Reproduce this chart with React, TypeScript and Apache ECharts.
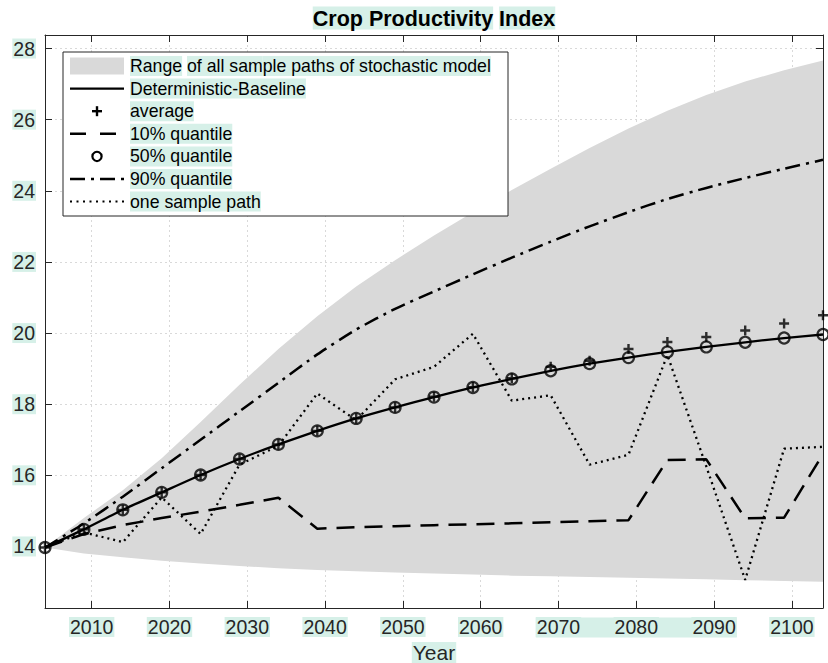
import React, { useEffect, useRef } from 'react';
import * as echarts from 'echarts';

// ---------- data ----------
const years = [2004, 2009, 2014, 2019, 2024, 2029, 2034, 2039, 2044, 2049, 2054, 2059, 2064, 2069, 2074, 2079, 2084, 2089, 2094, 2099, 2104];
const xTicks = [2010, 2020, 2030, 2040, 2050, 2060, 2070, 2080, 2090, 2100];
const yTicks = [14, 16, 18, 20, 22, 24, 26, 28];

const bandLower = [13.97, 13.8, 13.7, 13.6, 13.52, 13.45, 13.39, 13.34, 13.3, 13.27, 13.24, 13.21, 13.18, 13.16, 13.14, 13.12, 13.1, 13.08, 13.05, 13.03, 13.01];
const bandUpper = [13.97, 14.8, 15.58, 16.48, 17.5, 18.55, 19.55, 20.47, 21.31, 22.05, 22.74, 23.4, 24.02, 24.62, 25.2, 25.75, 26.25, 26.69, 27.07, 27.39, 27.66];
const baseline = [13.97, 14.48, 15.03, 15.52, 16.01, 16.46, 16.87, 17.25, 17.6, 17.91, 18.2, 18.47, 18.71, 18.94, 19.14, 19.31, 19.47, 19.61, 19.74, 19.86, 19.96];
const average = [13.97, 14.48, 15.03, 15.52, 16.01, 16.46, 16.87, 17.25, 17.6, 17.91, 18.21, 18.48, 18.73, 19.05, 19.22, 19.55, 19.75, 19.89, 20.07, 20.27, 20.5];
const q10 = [13.97, 14.35, 14.6, 14.8, 14.98, 15.17, 15.37, 14.5, 14.54, 14.57, 14.6, 14.62, 14.65, 14.68, 14.71, 14.74, 16.43, 16.45, 14.79, 14.81, 16.6];
const q50 = [13.97, 14.48, 15.03, 15.52, 16.01, 16.46, 16.87, 17.25, 17.6, 17.91, 18.2, 18.47, 18.71, 18.94, 19.14, 19.31, 19.47, 19.61, 19.74, 19.86, 19.96];
const q90 = [13.97, 14.65, 15.4, 16.2, 17.0, 17.8, 18.6, 19.4, 20.1, 20.68, 21.17, 21.65, 22.12, 22.57, 23.0, 23.4, 23.77, 24.08, 24.36, 24.62, 24.87];
const samplePath = [13.97, 14.4, 14.12, 15.38, 14.35, 16.3, 16.83, 18.3, 17.55, 18.7, 19.05, 19.98, 18.1, 18.25, 16.3, 16.58, 19.38, 16.25, 13.06, 16.75, 16.8];

const legendLabels = ['Range of all sample paths of stochastic model', 'Deterministic-Baseline', 'average', '10% quantile', '50% quantile', '90% quantile', 'one sample path'];
const titleText = 'Crop Productivity Index';
const xName = 'Year';

// ---------- styles ----------
const FONT = '"Liberation Sans", Arial, Helvetica, sans-serif';
const HL = '#d6f0e8';
const INK = '#262626';
const BAND = '#d9d9d9';
const DASH = [18, 10];
const DASHDOT = [15, 6, 3, 6];
const DOT = [2, 4];
const PLUS = 'path://M3.8,0H6.2V3.8H10V6.2H6.2V10H3.8V6.2H0V3.8H3.8Z';

const pairs = (vals: number[]) => years.map((y, i) => [y, vals[i]]);

export default function App() {
  const ref = useRef<HTMLDivElement>(null);

  useEffect(() => {
    const chart = echarts.init(ref.current!, null, { renderer: 'svg' });

    const axisLine = { show: true, onZero: false, lineStyle: { color: INK, width: 1 } };
    const tickStyle = { color: INK, width: 1 };
    const labelBase = {
      fontSize: 19.5,
      color: INK,
      fontFamily: FONT,
      backgroundColor: HL,
      padding: [0, 1, 0, 1],
      lineHeight: 20,
    };

    const rowY = [66, 88.6, 111.2, 133.8, 156.4, 179, 201.6];
    const lx1 = 70, lx2 = 124, lcx = 97, tx = 130;
    const textStyle = (t: string, y: number) => ({
      type: 'text', z: 102, x: tx, y,
      style: {
        text: t, fontSize: 17.7, fontFamily: FONT, fill: '#000',
        verticalAlign: 'middle', align: 'left', backgroundColor: HL, padding: [1, 0, 1, 0],
      },
    });

    const legendGraphics: any[] = [
      { type: 'rect', z: 100, shape: { x: 63, y: 52, width: 445, height: 164 }, style: { fill: '#fff', stroke: INK, lineWidth: 1 } },
      { type: 'rect', z: 101, shape: { x: lx1, y: 57.5, width: lx2 - lx1, height: 17 }, style: { fill: BAND } },
      {
        type: 'text', z: 102, x: tx, y: rowY[0],
        style: {
          text: '{h|Range} {h|of all sam}{h|ple paths of stochastic model}',
          fontSize: 17.7, fontFamily: FONT, verticalAlign: 'middle', align: 'left',
          rich: { h: { fontSize: 17.7, fontFamily: FONT, fill: '#000', backgroundColor: HL, padding: [1, 0, 1, 0] } },
        },
      },
      { type: 'line', z: 101, shape: { x1: lx1, y1: rowY[1], x2: lx2, y2: rowY[1] }, style: { stroke: '#000', lineWidth: 2.3 } },
      textStyle(legendLabels[1], rowY[1]),
      { type: 'line', z: 101, shape: { x1: lcx - 5, y1: rowY[2], x2: lcx + 5, y2: rowY[2] }, style: { stroke: '#000', lineWidth: 2.4 } },
      { type: 'line', z: 101, shape: { x1: lcx, y1: rowY[2] - 5, x2: lcx, y2: rowY[2] + 5 }, style: { stroke: '#000', lineWidth: 2.4 } },
      textStyle(legendLabels[2], rowY[2]),
      { type: 'line', z: 101, shape: { x1: lx1, y1: rowY[3], x2: lx2, y2: rowY[3] }, style: { stroke: '#000', lineWidth: 2.5, lineDash: [16, 14] } },
      textStyle(legendLabels[3], rowY[3]),
      { type: 'circle', z: 101, shape: { cx: lcx, cy: rowY[4], r: 4.6 }, style: { fill: 'none', stroke: '#000', lineWidth: 2.2 } },
      textStyle(legendLabels[4], rowY[4]),
      { type: 'line', z: 101, shape: { x1: lx1, y1: rowY[5], x2: lx2, y2: rowY[5] }, style: { stroke: '#000', lineWidth: 2.5, lineDash: DASHDOT } },
      textStyle(legendLabels[5], rowY[5]),
      { type: 'line', z: 101, shape: { x1: lx1, y1: rowY[6], x2: lx2, y2: rowY[6] }, style: { stroke: '#000', lineWidth: 2, lineDash: [2, 4.5] } },
      textStyle(legendLabels[6], rowY[6]),
    ];

    const titleGraphic = {
      type: 'text', z: 102, x: 434, y: 18,
      style: {
        text: '{h|Crop Produ}{h|ctivity} {h|Index}',
        fontSize: 21.5, fontWeight: 'bold', fontFamily: FONT, align: 'center', verticalAlign: 'middle',
        rich: { h: { fontSize: 21.5, fontWeight: 'bold', fontFamily: FONT, fill: '#000', backgroundColor: HL, padding: [1, 0, 0, 0] } },
      },
    };

    const option: any = {
      animation: false,
      backgroundColor: '#fff',
      grid: { left: 45, right: 5, top: 35, bottom: 55, containLabel: false, outerBoundsMode: 'none' },
      xAxis: [
        {
          type: 'value', min: 2004, max: 2104, position: 'bottom',
          axisLine,
          axisTick: { show: true, inside: true, length: 7, customValues: xTicks, lineStyle: tickStyle },
          axisLabel: { show: true, customValues: xTicks, margin: 9, formatter: (v: number) => String(v), ...labelBase },
          splitLine: { show: true, lineStyle: { color: '#d9d9d9', width: 1, type: [2, 3] } },
          name: xName, nameLocation: 'middle', nameGap: 31,
          nameTextStyle: { fontSize: 21, fontFamily: FONT, color: INK, backgroundColor: HL, padding: [0, 1, 0, 1], lineHeight: 21, verticalAlign: 'top' },
        },
        {
          type: 'value', min: 2004, max: 2104, position: 'top',
          axisLine,
          axisTick: { show: true, inside: true, length: 7, customValues: xTicks, lineStyle: tickStyle },
          axisLabel: { show: false },
          splitLine: { show: false },
        },
      ],
      yAxis: [
        {
          type: 'value', min: 12.27, max: 28.38, position: 'left',
          axisLine,
          axisTick: { show: true, inside: true, length: 7, customValues: yTicks, lineStyle: tickStyle },
          axisLabel: { show: true, customValues: yTicks, margin: 9, formatter: (v: number) => String(v), ...labelBase },
          splitLine: { show: true, lineStyle: { color: '#d9d9d9', width: 1, type: [2, 3] } },
        },
        {
          type: 'value', min: 12.27, max: 28.38, position: 'right',
          axisLine,
          axisTick: { show: true, inside: true, length: 7, customValues: yTicks, lineStyle: tickStyle },
          axisLabel: { show: false },
          splitLine: { show: false },
        },
      ],
      series: [
        {
          name: legendLabels[0], type: 'custom', data: pairs(bandUpper), silent: true, z: 1,
          renderItem: (params: any, api: any) => {
            if (params.dataIndex !== 0) return null;
            const top = years.map((y, i) => api.coord([y, bandUpper[i]]));
            const bot = years.map((y, i) => api.coord([y, bandLower[i]])).reverse();
            return {
              type: 'polygon',
              shape: { points: [...top, ...bot] },
              style: { fill: BAND, stroke: 'none' },
            };
          },
        },
        {
          name: legendLabels[5], type: 'line', data: pairs(q90), symbol: 'none', silent: true, z: 3, smooth: 0.2,
          lineStyle: { color: '#000', width: 2.5, type: DASHDOT },
        },
        {
          name: legendLabels[3], type: 'line', data: pairs(q10), symbol: 'none', silent: true, z: 3,
          lineStyle: { color: '#000', width: 2.5, type: DASH },
        },
        {
          name: legendLabels[6], type: 'line', data: pairs(samplePath), symbol: 'none', silent: true, z: 3,
          lineStyle: { color: '#000', width: 2.3, type: DOT },
        },
        {
          name: legendLabels[1], type: 'line', data: pairs(baseline), symbol: 'none', silent: true, z: 4, smooth: 0.2,
          lineStyle: { color: '#000', width: 2.3, type: 'solid' },
        },
        {
          name: legendLabels[2], type: 'scatter', data: pairs(average), symbol: PLUS, symbolSize: 10,
          itemStyle: { color: '#000' }, silent: true, z: 5,
        },
        {
          name: legendLabels[4], type: 'scatter', data: pairs(q50), symbol: 'circle', symbolSize: 11,
          itemStyle: { color: 'rgba(0,0,0,0)', borderColor: '#000', borderWidth: 2.2 }, silent: true, z: 5,
        },
      ],
      graphic: [titleGraphic, ...legendGraphics],
    };

    chart.setOption(option);

    // merged highlight behind the 2070–2090 tick labels, positioned via the axis scale
    const pA = chart.convertToPixel({ xAxisIndex: 0 }, 2070) as number;
    const pB = chart.convertToPixel({ xAxisIndex: 0 }, 2090) as number;
    const half = 22.7;
    chart.setOption({
      graphic: [titleGraphic, ...legendGraphics, {
        type: 'rect', z: -1, shape: { x: pA - half, y: 617.5, width: pB - pA + 2 * half, height: 20 },
        style: { fill: HL },
      }],
    });

    return () => chart.dispose();
  }, []);

  return <div ref={ref} style={{ position: 'fixed', left: 0, top: 0, width: 828, height: 663 }} />;
}
